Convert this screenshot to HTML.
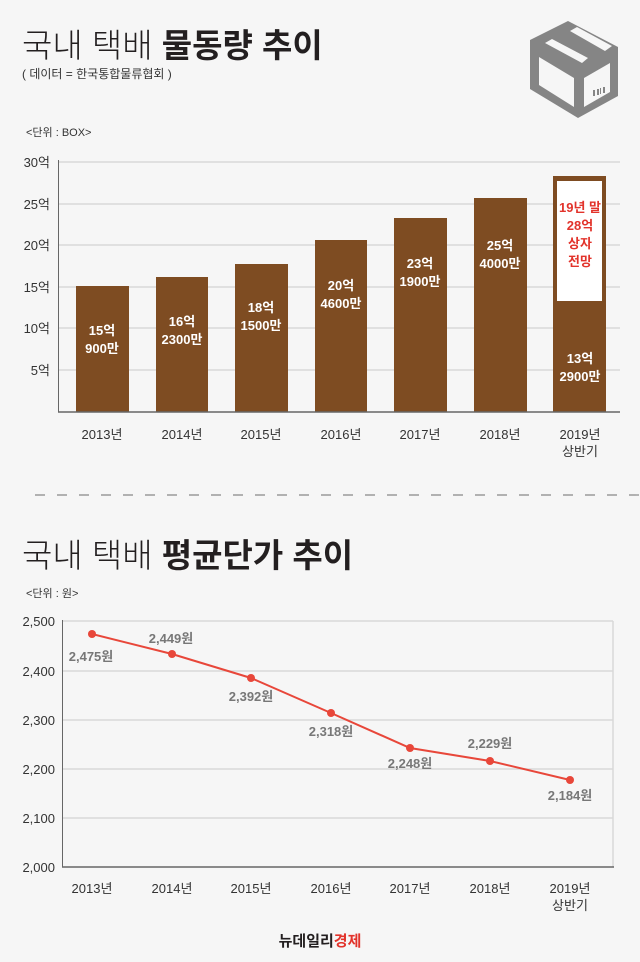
<!DOCTYPE html>
<html><head><meta charset="utf-8"><style>
html,body{margin:0;padding:0;background:#f6f6f6;}
body{width:640px;height:962px;overflow:hidden;position:relative;font-family:"Liberation Sans","Noto Sans CJK KR",sans-serif;}
</style></head><body>
<svg width="640" height="962" viewBox="0 0 640 962" xmlns="http://www.w3.org/2000/svg" style="position:absolute;left:0;top:0" font-family="Liberation Sans, Noto Sans CJK KR, sans-serif">
<rect width="640" height="962" fill="#f6f6f6"/>
<!-- title 1 -->
<text x="22" y="57" font-size="33" fill="#231f20"><tspan font-weight="300">국내 택배 </tspan><tspan font-weight="bold">물동량 추이</tspan></text>
<text x="22" y="78" font-size="12" fill="#333">( 데이터 = 한국통합물류협회 )</text>
<!-- box icon -->
<polygon points="568,21 618,47 618,96 578,118 530,89 530,40" fill="#858585"/>
<polygon points="539,57 574,78 574,107 539,85" fill="#f6f6f6"/>
<polygon points="584,78 610,63 610,92 584,107" fill="#f6f6f6"/>
<polygon points="545,43 552,39 588,58 582,63" fill="#f6f6f6"/>
<polygon points="570,31 577,27 612,46 605,51" fill="#f6f6f6"/>
<g fill="#858585"><rect x="593" y="90" width="2" height="6"/><rect x="597" y="89" width="2" height="6"/><rect x="600" y="88" width="1" height="6"/><rect x="603" y="87" width="2" height="6"/></g>
<!-- bar chart -->
<text x="26" y="136" font-size="11" fill="#333">&lt;단위 : BOX&gt;</text>
<g stroke="#d8d8d8" stroke-width="1.5">
<line x1="58" y1="162" x2="620" y2="162"/><line x1="58" y1="204" x2="620" y2="204"/><line x1="58" y1="245" x2="620" y2="245"/><line x1="58" y1="287" x2="620" y2="287"/><line x1="58" y1="328" x2="620" y2="328"/><line x1="58" y1="370" x2="620" y2="370"/>
</g>
<line x1="58.5" y1="160" x2="58.5" y2="412" stroke="#666" stroke-width="1"/>
<g font-size="13" fill="#333" text-anchor="end">
<text x="50" y="167">30억</text><text x="50" y="209">25억</text><text x="50" y="250">20억</text><text x="50" y="292">15억</text><text x="50" y="333">10억</text><text x="50" y="375">5억</text>
</g>
<g fill="#7e4c22">
<rect x="76" y="286" width="53" height="126"/>
<rect x="156" y="277" width="52" height="135"/>
<rect x="235" y="264" width="53" height="148"/>
<rect x="315" y="240" width="52" height="172"/>
<rect x="394" y="218" width="53" height="194"/>
<rect x="474" y="198" width="53" height="214"/>
<rect x="553" y="176" width="53" height="236"/>
</g>
<rect x="557" y="181" width="45" height="120" fill="#fff"/>
<line x1="58" y1="412" x2="620" y2="412" stroke="#666" stroke-width="1.5"/>
<g font-size="13" fill="#fff" font-weight="bold" text-anchor="middle">
<text x="102" y="335">15억</text><text x="102" y="353">900만</text>
<text x="182" y="326">16억</text><text x="182" y="344">2300만</text>
<text x="261" y="312">18억</text><text x="261" y="330">1500만</text>
<text x="341" y="290">20억</text><text x="341" y="308">4600만</text>
<text x="420" y="268">23억</text><text x="420" y="286">1900만</text>
<text x="500" y="250">25억</text><text x="500" y="268">4000만</text>
<text x="580" y="363">13억</text><text x="580" y="381">2900만</text>
</g>
<g font-size="13" fill="#e2332b" font-weight="bold" text-anchor="middle">
<text x="580" y="212">19년 말</text><text x="580" y="230">28억</text><text x="580" y="248">상자</text><text x="580" y="266">전망</text>
</g>
<g font-size="13" fill="#333" text-anchor="middle">
<text x="102" y="439">2013년</text><text x="182" y="439">2014년</text><text x="261" y="439">2015년</text><text x="341" y="439">2016년</text><text x="420" y="439">2017년</text><text x="500" y="439">2018년</text><text x="580" y="439">2019년</text><text x="580" y="456">상반기</text>
</g>
<!-- separator -->
<line x1="35" y1="495" x2="640" y2="495" stroke="#888" stroke-width="1.2" stroke-dasharray="10,12"/>
<!-- title 2 -->
<text x="22" y="567" font-size="33" fill="#231f20"><tspan font-weight="300">국내 택배 </tspan><tspan font-weight="bold">평균단가 추이</tspan></text>
<text x="26" y="597" font-size="11" fill="#333">&lt;단위 : 원&gt;</text>
<g stroke="#d8d8d8" stroke-width="1.5">
<line x1="62" y1="621" x2="613" y2="621"/><line x1="62" y1="671" x2="613" y2="671"/><line x1="62" y1="720" x2="613" y2="720"/><line x1="62" y1="769" x2="613" y2="769"/><line x1="62" y1="818" x2="613" y2="818"/>
</g>
<line x1="613" y1="621" x2="613" y2="867" stroke="#d8d8d8" stroke-width="1.5"/>
<line x1="62.5" y1="620" x2="62.5" y2="867" stroke="#666"/>
<line x1="62" y1="867" x2="614" y2="867" stroke="#666" stroke-width="1.5"/>
<g font-size="13" fill="#333" text-anchor="end">
<text x="55" y="626">2,500</text><text x="55" y="676">2,400</text><text x="55" y="725">2,300</text><text x="55" y="774">2,200</text><text x="55" y="823">2,100</text><text x="55" y="872">2,000</text>
</g>
<polyline points="92,634 172,654 251,678 331,713 410,748 490,761 570,780" fill="none" stroke="#e8473a" stroke-width="2"/>
<g fill="#e8473a">
<circle cx="92" cy="634" r="4"/><circle cx="172" cy="654" r="4"/><circle cx="251" cy="678" r="4"/><circle cx="331" cy="713" r="4"/><circle cx="410" cy="748" r="4"/><circle cx="490" cy="761" r="4"/><circle cx="570" cy="780" r="4"/>
</g>
<g font-size="13" fill="#777" font-weight="bold" text-anchor="middle">
<text x="91" y="661">2,475원</text><text x="171" y="643">2,449원</text><text x="251" y="701">2,392원</text><text x="331" y="736">2,318원</text><text x="410" y="768">2,248원</text><text x="490" y="748">2,229원</text><text x="570" y="800">2,184원</text>
</g>
<g font-size="13" fill="#333" text-anchor="middle">
<text x="92" y="893">2013년</text><text x="172" y="893">2014년</text><text x="251" y="893">2015년</text><text x="331" y="893">2016년</text><text x="410" y="893">2017년</text><text x="490" y="893">2018년</text><text x="570" y="893">2019년</text><text x="570" y="910">상반기</text>
</g>
<text x="320" y="946" font-size="15" font-weight="bold" text-anchor="middle" fill="#231f20">뉴데일리<tspan fill="#e2332b">경제</tspan></text>
</svg>
</body></html>
